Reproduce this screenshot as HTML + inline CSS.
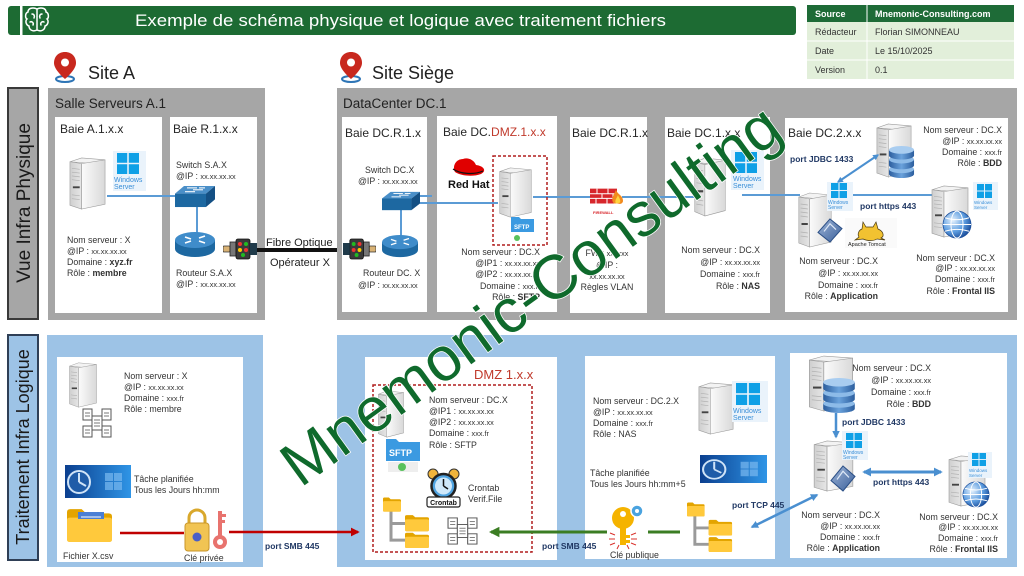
<!DOCTYPE html>
<html><head><meta charset="utf-8">
<style>
html,body{margin:0;padding:0;background:#fff;}
svg{display:block;}
text{font-family:"Liberation Sans",sans-serif;}
.t{font-size:8.8px;fill:#333;}
.b{font-weight:bold;}
.p{font-size:8.5px;font-weight:bold;fill:#203864;}
.bl{font-size:12px;fill:#262626;}
.xx{font-size:7.3px;}
.ws{fill:#3a8fd8;}
</style></head><body>
<svg width="1024" height="576" viewBox="0 0 1024 576" xmlns="http://www.w3.org/2000/svg">
<defs>
 <linearGradient id="gf" x1="0" x2="1" y1="0" y2="0"><stop offset="0" stop-color="#cfcfcf"/><stop offset="1" stop-color="#e6e6e6"/></linearGradient>
 <linearGradient id="gs" x1="0" x2="1" y1="0" y2="0"><stop offset="0" stop-color="#fbfbfb"/><stop offset="1" stop-color="#d9d9d9"/></linearGradient>
 <linearGradient id="gt" x1="0" x2="1" y1="0" y2="0"><stop offset="0" stop-color="#0b3f8f"/><stop offset="1" stop-color="#2f95e6"/></linearGradient>
 <radialGradient id="gg" cx="0.35" cy="0.35" r="0.7"><stop offset="0" stop-color="#e6f2fd"/><stop offset="0.6" stop-color="#5d9de0"/><stop offset="1" stop-color="#1c4f9c"/></radialGradient>
 <linearGradient id="gd" x1="0" x2="1"><stop offset="0" stop-color="#2c5e9e"/><stop offset="0.5" stop-color="#6aa2dc"/><stop offset="1" stop-color="#2c5e9e"/></linearGradient>
 <linearGradient id="ga" x1="0" x2="1" y1="0" y2="1"><stop offset="0" stop-color="#9fb6d8"/><stop offset="1" stop-color="#3a5f9a"/></linearGradient>

 <symbol id="srv" viewBox="0 0 40 56" preserveAspectRatio="none">
  <polygon points="2,5 14,1 38,3 26,7" fill="#f3f3f3" stroke="#9c9c9c" stroke-width="0.6"/>
  <polygon points="2,5 14,7 14,55 2,51" fill="url(#gf)" stroke="#9c9c9c" stroke-width="0.6"/>
  <polygon points="14,7 38,3 38,50 14,55" fill="url(#gs)" stroke="#9c9c9c" stroke-width="0.6"/>
  <g stroke="#b0b0b0" stroke-width="0.7"><line x1="4" y1="12" x2="12" y2="13"/><line x1="4" y1="16" x2="12" y2="17"/><line x1="4" y1="20" x2="12" y2="21"/><line x1="4" y1="24" x2="12" y2="25"/><line x1="4" y1="40" x2="12" y2="41"/><line x1="4" y1="44" x2="12" y2="45"/></g>
  <rect x="5" y="31" width="7" height="2" fill="#444"/>
 </symbol>
 <symbol id="win" viewBox="0 0 20 20" preserveAspectRatio="none">
  <rect x="0" y="0" width="9.3" height="9.3" fill="#0fa0e6"/><rect x="10.7" y="0" width="9.3" height="9.3" fill="#0fa0e6"/>
  <rect x="0" y="10.7" width="9.3" height="9.3" fill="#0fa0e6"/><rect x="10.7" y="10.7" width="9.3" height="9.3" fill="#0fa0e6"/>
 </symbol>
 <symbol id="sw" viewBox="0 0 40 24" preserveAspectRatio="none">
  <polygon points="0,9 9,1 40,1 31,9" fill="#4a8fc8"/>
  <rect x="0" y="9" width="31" height="14" fill="#1d68a1"/>
  <polygon points="31,9 40,1 40,15 31,23" fill="#145084"/>
  <g stroke="#fff" stroke-width="1.1"><line x1="12" y1="3" x2="22" y2="3"/><line x1="18" y1="5" x2="28" y2="5"/><line x1="10" y1="7" x2="20" y2="7"/><line x1="24" y1="3" x2="30" y2="3"/></g>
 </symbol>
 <symbol id="rt" viewBox="0 0 40 26" preserveAspectRatio="none">
  <ellipse cx="20" cy="17" rx="20" ry="8" fill="#1d68a1"/>
  <rect x="0" y="8" width="40" height="9" fill="#1d68a1"/>
  <ellipse cx="20" cy="8" rx="20" ry="8" fill="#3f8cca"/>
  <g stroke="#fff" stroke-width="1.5"><line x1="10" y1="5" x2="16" y2="7"/><line x1="24" y1="9" x2="30" y2="11"/><line x1="24" y1="6" x2="30" y2="4"/><line x1="10" y1="11" x2="16" y2="9"/></g>
 </symbol>
 <symbol id="fib" viewBox="0 0 34 22" preserveAspectRatio="none">
  <rect x="0" y="8" width="7" height="6" rx="1" fill="#d9b274" stroke="#333" stroke-width="0.8"/>
  <rect x="7" y="4" width="6" height="14" fill="#777" stroke="#222" stroke-width="0.8"/>
  <rect x="13" y="1" width="14" height="20" rx="2" fill="#3a3a3a" stroke="#111" stroke-width="0.8"/>
  <circle cx="17" cy="6" r="2" fill="#e33"/><circle cx="23" cy="6" r="2" fill="#2b2"/><circle cx="17" cy="12" r="2" fill="#fc0"/><circle cx="23" cy="12" r="2" fill="#e33"/><circle cx="20" cy="17" r="2" fill="#2b2"/>
  <rect x="27" y="5" width="7" height="12" fill="#1f3a4a"/>
 </symbol>
 <symbol id="fold" viewBox="0 0 40 32" preserveAspectRatio="none">
  <path d="M0 4 Q0 1 3 1 H13 L17 5 H37 Q40 5 40 8 V29 Q40 32 37 32 H3 Q0 32 0 29 Z" fill="#e3a400"/>
  <path d="M0 11 Q0 9 3 9 H37 Q40 9 40 11 V29 Q40 32 37 32 H3 Q0 32 0 29 Z" fill="#ffc93c"/>
 </symbol>
 <symbol id="ftree" viewBox="0 0 54 52" preserveAspectRatio="none">
  <g stroke="#9a9a9a" stroke-width="3" fill="none"><path d="M8 14 V44 H24 M8 27 H24"/></g>
  <use href="#fold" x="0" y="0" width="18" height="15"/>
  <use href="#fold" x="22" y="18" width="24" height="17"/>
  <use href="#fold" x="22" y="36" width="24" height="16"/>
 </symbol>
 <symbol id="docs" viewBox="0 0 30 30" preserveAspectRatio="none">
  <g fill="#fff" stroke="#555" stroke-width="1">
   <rect x="1" y="1" width="9" height="11"/><rect x="20" y="1" width="9" height="11"/>
   <rect x="1" y="18" width="9" height="11"/><rect x="20" y="18" width="9" height="11"/>
   <rect x="10" y="8" width="10" height="14"/>
  </g>
  <g stroke="#555" stroke-width="0.8"><line x1="3" y1="5" x2="8" y2="5"/><line x1="3" y1="8" x2="8" y2="8"/><line x1="22" y1="5" x2="27" y2="5"/><line x1="22" y1="8" x2="27" y2="8"/><line x1="3" y1="22" x2="8" y2="22"/><line x1="3" y1="25" x2="8" y2="25"/><line x1="22" y1="22" x2="27" y2="22"/><line x1="22" y1="25" x2="27" y2="25"/><line x1="12" y1="12" x2="18" y2="12"/><line x1="12" y1="15" x2="18" y2="15"/><line x1="12" y1="18" x2="18" y2="18"/></g>
 </symbol>
 <symbol id="task" viewBox="0 0 66 33" preserveAspectRatio="none">
  <rect width="66" height="33" fill="url(#gt)"/>
  <circle cx="14" cy="17" r="11" fill="#1f5ca8" stroke="#cfe3f7" stroke-width="2"/>
  <path d="M14 17 L14 8 M14 17 L21 21" stroke="#cfe3f7" stroke-width="2"/>
  <g fill="#7ab9f0" opacity="0.7"><rect x="40" y="8" width="8" height="8"/><rect x="49" y="8" width="8" height="8"/><rect x="40" y="17" width="8" height="8"/><rect x="49" y="17" width="8" height="8"/></g>
 </symbol>
 <symbol id="db" viewBox="0 0 28 34" preserveAspectRatio="none">
  <g>
   <path d="M1 25 V30 A13 4 0 0 0 27 30 V25 Z" fill="url(#gd)"/><ellipse cx="14" cy="25" rx="13" ry="4" fill="#8dbbe8"/>
   <path d="M1 15 V21 A13 4 0 0 0 27 21 V15 Z" fill="url(#gd)"/><ellipse cx="14" cy="15" rx="13" ry="4" fill="#8dbbe8"/>
   <path d="M1 5 V11 A13 4 0 0 0 27 11 V5 Z" fill="url(#gd)"/><ellipse cx="14" cy="5" rx="13" ry="4" fill="#a9cdf0"/>
  </g>
 </symbol>
 <symbol id="globe" viewBox="0 0 30 30" preserveAspectRatio="none">
  <circle cx="15" cy="15" r="14" fill="url(#gg)" stroke="#1c4f9c" stroke-width="0.8"/>
  <g fill="none" stroke="#fff" stroke-width="1"><ellipse cx="15" cy="15" rx="6" ry="14"/><line x1="1" y1="15" x2="29" y2="15"/><path d="M3 8 Q15 12 27 8 M3 22 Q15 18 27 22"/></g>
 </symbol>
 <symbol id="appi" viewBox="0 0 26 26" preserveAspectRatio="none">
  <polygon points="13,1 25,11 13,25 1,15" fill="url(#ga)" stroke="#2b4f86" stroke-width="1"/>
  <path d="M7 14 L13 6 L19 12" stroke="#dfe9f7" stroke-width="1.2" fill="none"/>
 </symbol>
 <symbol id="fw" viewBox="0 0 34 28" preserveAspectRatio="none">
  <rect x="0" y="5" width="27" height="16" fill="#d7262b"/>
  <g stroke="#fff" stroke-width="1"><line x1="0" y1="10.5" x2="27" y2="10.5"/><line x1="0" y1="15.5" x2="27" y2="15.5"/><line x1="7" y1="5" x2="7" y2="10.5"/><line x1="18" y1="5" x2="18" y2="10.5"/><line x1="12" y1="10.5" x2="12" y2="15.5"/><line x1="23" y1="10.5" x2="23" y2="15.5"/><line x1="6" y1="15.5" x2="6" y2="21"/><line x1="17" y1="15.5" x2="17" y2="21"/></g>
  <path d="M24 21 C20 16 24 12 26 6 C27 11 33 12 33 18 C33 21 30 22 28 21 Z" fill="#f28a1e"/>
  <path d="M26 21 C24 18 27 15 28 12 C29 15 31 17 30 20 Z" fill="#ffd33d"/>
 </symbol>
</defs>

<!-- HEADER -->
<rect x="8" y="6" width="788" height="29" rx="3" fill="#1d6b33"/>
<rect x="20" y="6" width="2.5" height="29" fill="#fff"/>
<g fill="none" stroke="#fff" stroke-width="1.5" stroke-linecap="round">
 <path d="M37 9 C33 7 28 8 28 12 C25 13 25 18 27 19 C25 21 26 25 29 26 C29 30 33 32 37 30 Z"/>
 <path d="M37 9 C41 7 46 8 46 12 C49 13 49 18 47 19 C49 21 48 25 45 26 C45 30 41 32 37 30"/>
 <path d="M32 14 C34 14 35 16 34 18 M30 22 C32 21 34 23 33 25 M42 14 C40 14 39 16 40 18 M44 22 C42 21 40 23 41 25"/>
</g>
<text x="135" y="26" font-size="17" fill="#fff" textLength="531" lengthAdjust="spacingAndGlyphs">Exemple de schéma physique et logique avec traitement fichiers</text>

<!-- Sites -->
<g transform="translate(53,52)">
 <ellipse cx="12" cy="27" rx="9" ry="3" fill="none" stroke="#2e75b6" stroke-width="2"/>
 <path d="M12 0 C5 0 1 5 1 11 C1 18 12 27 12 27 C12 27 23 18 23 11 C23 5 19 0 12 0 Z" fill="#c8281e"/>
 <circle cx="12" cy="10.5" r="4" fill="#fff"/>
</g>
<text x="88" y="79" font-size="18" fill="#222">Site A</text>
<g transform="translate(339,52)">
 <ellipse cx="12" cy="27" rx="9" ry="3" fill="none" stroke="#2e75b6" stroke-width="2"/>
 <path d="M12 0 C5 0 1 5 1 11 C1 18 12 27 12 27 C12 27 23 18 23 11 C23 5 19 0 12 0 Z" fill="#c8281e"/>
 <circle cx="12" cy="10.5" r="4" fill="#fff"/>
</g>
<text x="372" y="79" font-size="18" fill="#222">Site Siège</text>

<!-- Table -->
<rect x="807" y="5" width="207" height="17" fill="#1e6b37"/>
<rect x="807" y="22" width="207" height="57" fill="#e2efda"/>
<g stroke="#fff" stroke-width="1"><line x1="867" y1="5" x2="867" y2="79"/><line x1="807" y1="41" x2="1014" y2="41"/><line x1="807" y1="60" x2="1014" y2="60"/></g>
<text x="815" y="17" font-size="9" font-weight="bold" fill="#fff">Source</text>
<text x="875" y="17" font-size="9" font-weight="bold" fill="#fff">Mnemonic-Consulting.com</text>
<text x="815" y="35" font-size="9" fill="#333">Rédacteur</text><text x="875" y="35" font-size="9" fill="#333">Florian SIMONNEAU</text>
<text x="815" y="54" font-size="9" fill="#333">Date</text><text x="875" y="54" font-size="9" fill="#333">Le 15/10/2025</text>
<text x="815" y="73" font-size="9" fill="#333">Version</text><text x="875" y="73" font-size="9" fill="#333">0.1</text>

<!-- ============ PHYSICAL ============ -->
<rect x="8" y="88" width="30" height="231" fill="#a6a6a6" stroke="#3a3a3a" stroke-width="2"/>
<text transform="translate(30,203) rotate(-90)" text-anchor="middle" font-size="19" fill="#1a1a1a">Vue Infra Physique</text>

<rect x="48" y="88" width="217" height="232" fill="#a6a6a6"/>
<text x="55" y="108" font-size="13.5" fill="#222">Salle Serveurs A.1</text>
<rect x="55" y="117" width="107" height="196" fill="#fff"/>
<rect x="170" y="117" width="87" height="196" fill="#fff"/>
<text class="bl" x="60" y="133">Baie A.1.x.x</text>
<text class="bl" x="173" y="133">Baie R.1.x.x</text>

<use href="#srv" x="68" y="157" width="39" height="53"/>
<rect x="113" y="151" width="33" height="40" fill="#eaf3fb"/>
<use href="#win" x="117" y="153" width="22" height="21"/>
<text x="114" y="182" font-size="7" class="ws">Windows</text><text x="114" y="189" font-size="7" class="ws">Server</text>
<g stroke="#5b9bd5" stroke-width="2" fill="none">
 <line x1="107" y1="196" x2="176" y2="196"/>
 <line x1="197" y1="207" x2="197" y2="233"/>
</g>
<text class="t" x="176" y="168">Switch S.A.X</text>
<text class="t" x="176" y="179">@IP : <tspan class="xx">xx.xx.xx.xx</tspan></text>
<use href="#sw" x="175" y="185" width="40" height="23"/>
<use href="#rt" x="175" y="232" width="40" height="26"/>
<use href="#fib" x="223" y="238" width="34" height="22"/>
<text class="t" x="176" y="276">Routeur S.A.X</text>
<text class="t" x="176" y="287">@IP : <tspan class="xx">xx.xx.xx.xx</tspan></text>
<text class="t" x="67" y="243">Nom serveur : X</text>
<text class="t" x="67" y="254">@IP : <tspan class="xx">xx.xx.xx.xx</tspan></text>
<text class="t" x="67" y="265">Domaine : <tspan class="b">xyz.fr</tspan></text>
<text class="t" x="67" y="276">Rôle : <tspan class="b">membre</tspan></text>

<line x1="257" y1="250" x2="344" y2="250" stroke="#111" stroke-width="4"/>
<text x="266" y="246" font-size="11" fill="#222">Fibre Optique</text>
<text x="270" y="266" font-size="11" fill="#222">Opérateur X</text>

<!-- DataCenter -->
<rect x="337" y="88" width="680" height="232" fill="#a6a6a6"/>
<text x="343" y="108" font-size="13.5" fill="#222">DataCenter DC.1</text>
<rect x="342" y="117" width="85" height="195" fill="#fff"/>
<rect x="437" y="116" width="120" height="196" fill="#fff"/>
<rect x="570" y="117" width="77" height="196" fill="#fff"/>
<rect x="665" y="117" width="105" height="196" fill="#fff"/>
<rect x="785" y="118" width="223" height="194" fill="#fff"/>
<text class="bl" x="345" y="137">Baie DC.R.1.x</text>
<text class="bl" x="443" y="136">Baie DC.<tspan fill="#c0392b">DMZ.1.x.x</tspan></text>
<text class="bl" x="572" y="137">Baie DC.R.1.x</text>
<text class="bl" x="667" y="137">Baie DC.1.x.x</text>
<text class="bl" x="788" y="137">Baie DC.2.x.x</text>

<g stroke="#5b9bd5" stroke-width="2" fill="none">
 <line x1="401" y1="209" x2="401" y2="236"/>
 <line x1="420" y1="196" x2="432" y2="196"/>
 <line x1="420" y1="203" x2="498" y2="203"/>
 <line x1="533" y1="197" x2="591" y2="197"/>
 <line x1="622" y1="197" x2="695" y2="197"/>
 <line x1="742" y1="195" x2="800" y2="195"/>
 <line x1="852" y1="195" x2="932" y2="195"/>
</g>
<text class="t" x="365" y="173">Switch DC.X</text>
<text class="t" x="358" y="184">@IP : <tspan class="xx">xx.xx.xx.xx</tspan></text>
<use href="#sw" x="382" y="191" width="38" height="20"/>
<use href="#rt" x="382" y="235" width="36" height="23"/>
<use href="#fib" x="0" y="0" width="33" height="22" transform="translate(376,238) scale(-1,1)"/>
<text class="t" x="363" y="276">Routeur DC. X</text>
<text class="t" x="358" y="288">@IP : <tspan class="xx">xx.xx.xx.xx</tspan></text>

<!-- DMZ physical -->
<path d="M455 172 C452 166 456 159 463 159 C468 157 474 160 476 165 C484 166 487 171 481 174 C473 177 461 176 455 172 Z" fill="#e00000"/>
<path d="M453 169 C460 174 474 175 483 171" stroke="#111" stroke-width="1.2" fill="none"/>
<text x="448" y="188" font-size="11" font-weight="bold" fill="#111">Red Hat</text>
<rect x="493" y="156" width="54" height="89" fill="none" stroke="#b01e1e" stroke-width="1.5" stroke-dasharray="3,2"/>
<use href="#srv" x="498" y="167" width="35" height="51"/>
<path d="M511 217 h8 l2 2 h13 v13 h-23 z" fill="#3b9ae1"/>
<text x="514" y="229" font-size="6" font-weight="bold" fill="#fff">SFTP</text>
<circle cx="517" cy="238" r="3" fill="#58c15c"/>
<text class="t" x="540" y="255" text-anchor="end">Nom serveur : DC.X</text>
<text class="t" x="540" y="266" text-anchor="end">@IP1 : <tspan class="xx">xx.xx.xx.xx</tspan></text>
<text class="t" x="540" y="277" text-anchor="end">@IP2 : <tspan class="xx">xx.xx.xx.xx</tspan></text>
<text class="t" x="540" y="289" text-anchor="end">Domaine : <tspan class="xx">xxx.fr</tspan></text>
<text class="t" x="540" y="300" text-anchor="end">Rôle : <tspan class="b">SFTP</tspan></text>

<!-- firewall -->
<use href="#fw" x="590" y="184" width="34" height="26"/>
<text x="593" y="214" font-size="4" font-weight="bold" fill="#d7262b">FIREWALL</text>
<text class="t" x="607" y="256" text-anchor="middle">FW : <tspan class="xx">xxxxxx</tspan></text>
<text class="t" x="607" y="268" text-anchor="middle">@IP :</text>
<text class="t xx" x="607" y="279" text-anchor="middle">xx.xx.xx.xx</text>
<text class="t" x="607" y="290" text-anchor="middle">Règles VLAN</text>

<!-- NAS physical -->
<use href="#srv" x="693" y="157" width="34" height="60"/>
<rect x="731" y="150" width="33" height="40" fill="#eaf3fb"/>
<use href="#win" x="735" y="152" width="22" height="21"/>
<text x="733" y="181" font-size="7" class="ws">Windows</text><text x="733" y="188" font-size="7" class="ws">Server</text>
<text class="t" x="760" y="253" text-anchor="end">Nom serveur : DC.X</text>
<text class="t" x="760" y="265" text-anchor="end">@IP : <tspan class="xx">xx.xx.xx.xx</tspan></text>
<text class="t" x="760" y="277" text-anchor="end">Domaine : <tspan class="xx">xxx.fr</tspan></text>
<text class="t" x="760" y="289" text-anchor="end">Rôle : <tspan class="b">NAS</tspan></text>

<!-- DC.2 physical -->
<use href="#srv" x="875" y="123" width="38" height="55"/>
<use href="#db" x="888" y="145" width="27" height="33"/>
<text class="t" x="1002" y="133" text-anchor="end">Nom serveur : DC.X</text>
<text class="t" x="1002" y="144" text-anchor="end">@IP : <tspan class="xx">xx.xx.xx.xx</tspan></text>
<text class="t" x="1002" y="155" text-anchor="end">Domaine : <tspan class="xx">xxx.fr</tspan></text>
<text class="t" x="1002" y="166" text-anchor="end">Rôle : <tspan class="b">BDD</tspan></text>
<text class="p" x="790" y="162">port JDBC 1433</text>
<use href="#srv" x="797" y="192" width="36" height="56"/>
<use href="#appi" x="817" y="218" width="26" height="25"/>
<rect x="827" y="182" width="26" height="29" fill="#eaf3fb"/>
<use href="#win" x="831" y="183" width="16" height="15"/>
<text x="828" y="204" font-size="5" class="ws">Windows</text><text x="828" y="209" font-size="5" class="ws">Server</text>
<g transform="translate(845,218)">
 <rect x="0" y="0" width="52" height="30" fill="#fafafa"/>
 <path d="M18 4 L21 9 L28 9 L31 4 L33 11 C38 13 40 18 36 20 L40 22 L32 21 C29 23 22 23 18 21 L10 22 L14 19 C12 16 14 12 17 11 Z" fill="#f2c231" stroke="#4a3a10" stroke-width="0.7"/>
 <text x="3" y="28" font-size="5.5" fill="#222">Apache Tomcat</text>
</g>
<text class="p" x="860" y="209">port https 443</text>
<use href="#srv" x="930" y="185" width="40" height="53"/>
<use href="#globe" x="942" y="210" width="30" height="29"/>
<rect x="973" y="182" width="25" height="28" fill="#eaf3fb"/>
<use href="#win" x="977" y="184" width="15" height="14"/>
<text x="974" y="204" font-size="4.5" class="ws">Windows</text><text x="974" y="209" font-size="4.5" class="ws">Server</text>
<text class="t" x="878" y="264" text-anchor="end">Nom serveur : DC.X</text>
<text class="t" x="878" y="276" text-anchor="end">@IP : <tspan class="xx">xx.xx.xx.xx</tspan></text>
<text class="t" x="878" y="288" text-anchor="end">Domaine : <tspan class="xx">xxx.fr</tspan></text>
<text class="t" x="878" y="299" text-anchor="end">Rôle : <tspan class="b">Application</tspan></text>
<text class="t" x="995" y="261" text-anchor="end">Nom serveur : DC.X</text>
<text class="t" x="995" y="271" text-anchor="end">@IP : <tspan class="xx">xx.xx.xx.xx</tspan></text>
<text class="t" x="995" y="282" text-anchor="end">Domaine : <tspan class="xx">xxx.fr</tspan></text>
<text class="t" x="995" y="294" text-anchor="end">Rôle : <tspan class="b">Frontal IIS</tspan></text>

<!-- ============ LOGICAL ============ -->
<rect x="8" y="335" width="30" height="225" fill="#9dc3e6" stroke="#2f3f56" stroke-width="2"/>
<text transform="translate(29,447) rotate(-90)" text-anchor="middle" font-size="18" fill="#1a1a1a">Traitement Infra Logique</text>

<rect x="47" y="335" width="216" height="232" fill="#9dc3e6"/>
<rect x="57" y="357" width="186" height="205" fill="#fff"/>
<use href="#srv" x="68" y="362" width="30" height="46"/>
<use href="#docs" x="82" y="408" width="30" height="30"/>
<text class="t" x="124" y="379">Nom serveur : X</text>
<text class="t" x="124" y="390">@IP : <tspan class="xx">xx.xx.xx.xx</tspan></text>
<text class="t" x="124" y="401">Domaine : <tspan class="xx">xxx.fr</tspan></text>
<text class="t" x="124" y="412">Rôle : membre</text>
<use href="#task" x="65" y="465" width="66" height="33"/>
<text class="t" x="134" y="482">Tâche planifiée</text>
<text class="t" x="134" y="493">Tous les Jours hh:mm</text>
<use href="#fold" x="67" y="508" width="45" height="34"/>
<rect x="78" y="512" width="26" height="18" fill="#4a7fd4"/>
<g stroke="#fff" stroke-width="1"><line x1="81" y1="517" x2="101" y2="517"/><line x1="81" y1="521" x2="101" y2="521"/><line x1="81" y1="525" x2="101" y2="525"/></g>
<path d="M67 522 Q67 519 70 519 H109 Q112 519 112 522 V539 Q112 542 109 542 H70 Q67 542 67 539 Z" fill="#ffc93c"/>
<text class="t" x="63" y="559">Fichier X.csv</text>

<!-- lock & key -->
<g transform="translate(183,508)">
 <path d="M6 16 V10 A8 8 0 0 1 22 10 V16" fill="none" stroke="#d9a82c" stroke-width="3"/>
 <rect x="2" y="15" width="24" height="28" rx="3" fill="#f1c453" stroke="#c9962a" stroke-width="1"/>
 <circle cx="14" cy="29" r="4.5" fill="#4a5fc8"/>
 <rect x="35" y="3" width="4" height="26" fill="#e8736e"/>
 <rect x="39" y="6" width="4" height="3" fill="#e8736e"/><rect x="39" y="12" width="3" height="3" fill="#e8736e"/>
 <circle cx="37" cy="34" r="7" fill="#e8736e"/>
 <circle cx="37" cy="34" r="3" fill="#fff"/>
</g>
<text class="t" x="184" y="561">Clé privée</text>

<defs>
 <marker id="ar" viewBox="0 0 10 10" refX="8" refY="5" markerWidth="3.5" markerHeight="3.5" orient="auto-start-reverse"><path d="M0 0 L10 5 L0 10 Z" fill="#c00000"/></marker>
 <marker id="ag" viewBox="0 0 10 10" refX="8" refY="5" markerWidth="3.5" markerHeight="3.5" orient="auto-start-reverse"><path d="M0 0 L10 5 L0 10 Z" fill="#3b7d23"/></marker>
 <marker id="ab" viewBox="0 0 10 10" refX="8" refY="5" markerWidth="3" markerHeight="3" orient="auto-start-reverse"><path d="M0 0 L10 5 L0 10 Z" fill="#4a8fd0"/></marker>
</defs>

<!-- right logical -->
<rect x="337" y="335" width="680" height="232" fill="#9dc3e6"/>
<rect x="365" y="357" width="192" height="203" fill="#fff"/>
<rect x="585" y="356" width="190" height="203" fill="#fff"/>
<rect x="790" y="353" width="217" height="205" fill="#fff"/>

<line x1="120" y1="533" x2="184" y2="533" stroke="#c00000" stroke-width="2.5"/>
<line x1="229" y1="532" x2="358" y2="532" stroke="#c00000" stroke-width="2.5" marker-end="url(#ar)"/>
<text class="p" x="265" y="549">port SMB 445</text>

<!-- DMZ logical -->
<text x="474" y="379" font-size="13" fill="#c0392b">DMZ 1.x.x</text>
<rect x="373" y="385" width="159" height="167" fill="none" stroke="#b01e1e" stroke-width="1.5" stroke-dasharray="3,2"/>
<use href="#srv" x="377" y="390" width="28" height="48"/>
<path d="M386 439 h10 l3 3 h21 v19 h-34 z" fill="#3b9ae1"/>
<text x="389" y="456" font-size="9" font-weight="bold" fill="#fff">SFTP</text>
<rect x="388" y="462" width="30" height="10" fill="#eeeeee"/>
<circle cx="402" cy="467" r="4" fill="#58c15c"/>
<text class="t" x="429" y="403">Nom serveur : DC.X</text>
<text class="t" x="429" y="414">@IP1 : <tspan class="xx">xx.xx.xx.xx</tspan></text>
<text class="t" x="429" y="425">@IP2 : <tspan class="xx">xx.xx.xx.xx</tspan></text>
<text class="t" x="429" y="436">Domaine : <tspan class="xx">xxx.fr</tspan></text>
<text class="t" x="429" y="448">Rôle : SFTP</text>
<g transform="translate(425,468)">
 <circle cx="8" cy="6" r="5" fill="#f0b43c" stroke="#333" stroke-width="1"/>
 <circle cx="29" cy="6" r="5" fill="#f0b43c" stroke="#333" stroke-width="1"/>
 <circle cx="18.5" cy="18" r="12" fill="#4fa3e0" stroke="#222" stroke-width="2.5"/>
 <circle cx="18.5" cy="18" r="8.5" fill="#cfe8fa"/>
 <path d="M18.5 18 V11 M18.5 18 L23 21" stroke="#111" stroke-width="1.5"/>
 <rect x="2" y="29" width="33" height="10" rx="2" fill="#fff" stroke="#222" stroke-width="1.2"/>
 <text x="18.5" y="37" font-size="7" font-weight="bold" fill="#111" text-anchor="middle">Crontab</text>
</g>
<text class="t" x="468" y="491">Crontab</text>
<text class="t" x="468" y="502">Verif.File</text>
<use href="#ftree" x="383" y="497" width="54" height="51"/>
<use href="#docs" x="447" y="517" width="31" height="28"/>

<line x1="680" y1="532" x2="648" y2="532" stroke="#3b7d23" stroke-width="3"/>
<line x1="607" y1="532" x2="491" y2="532" stroke="#3b7d23" stroke-width="3" marker-end="url(#ag)"/>
<text class="p" x="542" y="549">port SMB 445</text>

<!-- NAS logical -->
<text class="t" x="593" y="404">Nom serveur : DC.2.X</text>
<text class="t" x="593" y="415">@IP : <tspan class="xx">xx.xx.xx.xx</tspan></text>
<text class="t" x="593" y="426">Domaine : <tspan class="xx">xxx.fr</tspan></text>
<text class="t" x="593" y="437">Rôle : NAS</text>
<use href="#srv" x="697" y="382" width="38" height="53"/>
<rect x="732" y="381" width="36" height="41" fill="#eaf3fb"/>
<use href="#win" x="736" y="383" width="24" height="22"/>
<text x="733" y="413" font-size="7" class="ws">Windows</text><text x="733" y="420" font-size="7" class="ws">Server</text>
<use href="#task" x="700" y="455" width="67" height="28"/>
<text class="t" x="590" y="476">Tâche planifiée</text>
<text class="t" x="590" y="487">Tous les Jours hh:mm+5</text>
<g transform="translate(607,505)">
 <g stroke="#d9302b" stroke-width="1"><path d="M8 30 L3 28 M8 34 L2 34 M8 38 L3 40 M24 30 L29 28 M24 34 L30 34 M24 38 L29 40 M12 40 L10 44 M20 40 L22 44"/></g>
 <circle cx="16" cy="13" r="11" fill="#f5b300"/>
 <circle cx="16" cy="9" r="3" fill="#fff"/>
 <rect x="13" y="22" width="6" height="18" fill="#f5b300"/>
 <rect x="19" y="30" width="4" height="3" fill="#f5b300"/><rect x="19" y="35" width="4" height="3" fill="#f5b300"/>
 <circle cx="30" cy="6" r="6" fill="#4aa3df" stroke="#fff" stroke-width="1.5"/>
 <circle cx="30" cy="6" r="2" fill="#fff"/>
</g>
<text class="t" x="610" y="558">Clé publique</text>
<use href="#ftree" x="687" y="502" width="53" height="50"/>
<line x1="752" y1="527" x2="817" y2="495" stroke="#4a8fd0" stroke-width="2.5" marker-start="url(#ab)" marker-end="url(#ab)"/>
<text class="p" x="732" y="508">port TCP 445</text>

<!-- right logical box -->
<use href="#srv" x="807" y="355" width="48" height="57"/>
<use href="#db" x="822" y="377" width="34" height="36"/>
<text class="t" x="931" y="371" text-anchor="end">Nom serveur : DC.X</text>
<text class="t" x="931" y="383" text-anchor="end">@IP : <tspan class="xx">xx.xx.xx.xx</tspan></text>
<text class="t" x="931" y="395" text-anchor="end">Domaine : <tspan class="xx">xxx.fr</tspan></text>
<text class="t" x="931" y="407" text-anchor="end">Rôle : <tspan class="b">BDD</tspan></text>
<line x1="836" y1="413" x2="836" y2="437" stroke="#4a8fd0" stroke-width="2.5" marker-end="url(#ab)"/>
<text class="p" x="842" y="425">port JDBC 1433</text>
<use href="#srv" x="812" y="440" width="43" height="52"/>
<use href="#appi" x="830" y="465" width="26" height="27"/>
<rect x="842" y="431" width="26" height="29" fill="#eaf3fb"/>
<use href="#win" x="846" y="433" width="16" height="15"/>
<text x="843" y="454" font-size="5" class="ws">Windows</text><text x="843" y="459" font-size="5" class="ws">Server</text>
<line x1="864" y1="472" x2="941" y2="472" stroke="#4a8fd0" stroke-width="3" marker-start="url(#ab)" marker-end="url(#ab)"/>
<text class="p" x="873" y="485">port https 443</text>
<use href="#srv" x="947" y="455" width="40" height="52"/>
<use href="#globe" x="962" y="481" width="28" height="27"/>
<rect x="968" y="452" width="24" height="26" fill="#eaf3fb"/>
<use href="#win" x="972" y="453" width="14" height="13"/>
<text x="969" y="472" font-size="4.5" class="ws">Windows</text><text x="969" y="477" font-size="4.5" class="ws">Server</text>
<text class="t" x="880" y="518" text-anchor="end">Nom serveur : DC.X</text>
<text class="t" x="880" y="529" text-anchor="end">@IP : <tspan class="xx">xx.xx.xx.xx</tspan></text>
<text class="t" x="880" y="540" text-anchor="end">Domaine : <tspan class="xx">xxx.fr</tspan></text>
<text class="t" x="880" y="551" text-anchor="end">Rôle : <tspan class="b">Application</tspan></text>
<text class="t" x="998" y="520" text-anchor="end">Nom serveur : DC.X</text>
<text class="t" x="998" y="530" text-anchor="end">@IP : <tspan class="xx">xx.xx.xx.xx</tspan></text>
<text class="t" x="998" y="541" text-anchor="end">Domaine : <tspan class="xx">xxx.fr</tspan></text>
<text class="t" x="998" y="552" text-anchor="end">Rôle : <tspan class="b">Frontal IIS</tspan></text>

<!-- physical JDBC arrow (drawn after markers defined) -->
<line x1="838" y1="182" x2="878" y2="155" stroke="#4a8fd0" stroke-width="2" marker-start="url(#ab)" marker-end="url(#ab)"/>

<!-- WATERMARK -->
<text x="543" y="312" transform="rotate(-36 543 312)" text-anchor="middle" font-size="62" fill="#0f6a2c" stroke="#ffffff" stroke-width="1.5" paint-order="stroke">Mnemonic-Consulting</text>
</svg>
</body></html>
